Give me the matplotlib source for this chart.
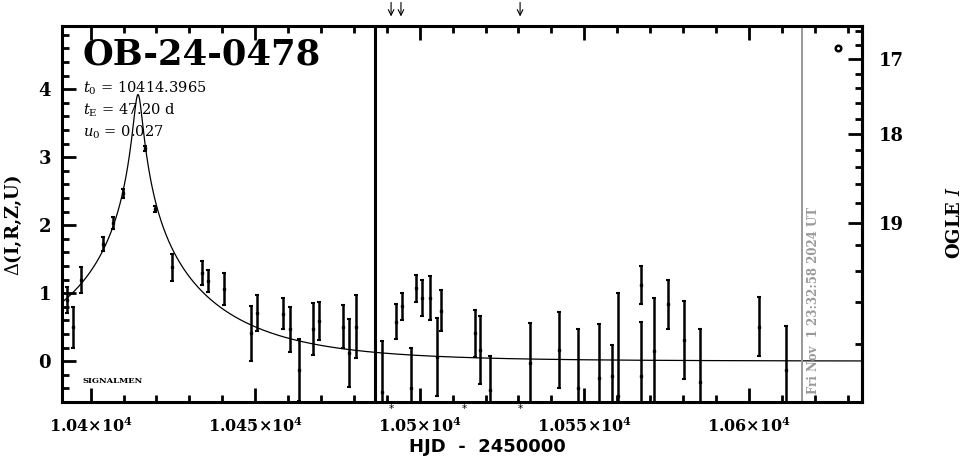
import numpy as np
import matplotlib
matplotlib.use("Agg")
import matplotlib.pyplot as plt
from matplotlib.ticker import MultipleLocator, FixedLocator, FuncFormatter

# event parameters
event_name = "OB-24-0478"
t0 = 10414.3965
tE = 47.20
u0 = 0.027

# photometry: HJD-2450000, delta mag, error
hjd = [10392.7, 10394.7, 10397.0, 10403.8, 10406.7, 10409.7, 10416.5, 10419.5,
       10424.6, 10433.7, 10435.7, 10440.6, 10448.6, 10450.5, 10458.5, 10460.6,
       10463.3, 10467.5, 10469.5, 10476.6, 10478.6, 10480.6,
       10488.5, 10492.7, 10494.6, 10497.4, 10498.8, 10500.6, 10503.2, 10505.3,
       10506.5, 10516.8, 10518.4, 10521.5, 10533.5, 10542.4, 10548.2, 10554.4,
       10558.4, 10560.4, 10567.3, 10567.3, 10571.3, 10575.3, 10580.3, 10585.2,
       10603.2, 10611.2]
dmag = [0.90, 0.50, 1.19, 1.72, 2.03, 2.47, 3.13, 2.24,
        1.38, 1.30, 1.18, 1.06, 0.41, 0.71, 0.70, 0.47,
        -0.13, 0.47, 0.59, 0.51, 0.12, 0.51,
        -0.45, 0.58, 0.81, -0.40, 1.07, 0.93, 0.93, 0.06,
        0.74, 0.41, 0.17, -0.43, -0.03, 0.16, -0.40, -0.25,
        -0.22, -0.51, 1.12, -0.22, 0.15, 0.84, 0.31, -0.30,
        0.51, -0.13]
derr = [0.19, 0.30, 0.19, 0.10, 0.09, 0.07, 0.04, 0.05,
        0.20, 0.18, 0.16, 0.24, 0.40, 0.26, 0.23, 0.33,
        0.45, 0.38, 0.28, 0.32, 0.50, 0.46,
        0.75, 0.26, 0.20, 0.60, 0.20, 0.26, 0.32, 0.57,
        0.30, 0.35, 0.50, 0.51, 0.59, 0.56, 0.88, 0.79,
        0.46, 1.52, 0.28, 0.80, 0.78, 0.36, 0.57, 0.77,
        0.43, 0.65]

season_break = 10486.4
now_hjd = 10616.3
arrow_hjd = [10491.3, 10494.3, 10530.5]
star_hjd = [10491.3, 10513.6, 10530.5]
marker_hjd = [10627.2]
marker_dmag = [4.6]
date_text = "Fri Nov  1 23:32:58 2024 UT"
ogle_ticks = [17, 18, 19]

# OGLE I axis: blended flux conversion
I_base = 19.86
fs = 0.22


def dmag_to_I(d):
    A = 10 ** (0.4 * np.asarray(d, dtype=float))
    return I_base - 2.5 * np.log10(np.maximum(fs * (A - 1) + 1, 1e-6))


def I_to_dmag(m):
    f = 10 ** (-0.4 * (np.asarray(m, dtype=float) - I_base))
    return 2.5 * np.log10(np.maximum((f - 1) / fs + 1, 1e-6))


def pacz(t):
    u = np.sqrt(u0 ** 2 + ((t - t0) / tE) ** 2)
    A = (u ** 2 + 2) / (u * np.sqrt(u ** 2 + 4))
    return 2.5 * np.log10(A)


def xfmt(v, pos):
    s = "%g" % (v / 1e4)
    return r"$\mathbf{%s{\times}10^4}$" % s


def main():
    plt.rcParams["mathtext.fontset"] = "dejavuserif"
    fig = plt.figure(figsize=(9.65, 4.59), dpi=100)
    ax = fig.add_axes([62 / 965, 1 - 402 / 459, 800 / 965, 376 / 459])

    xmin, xmax = 10391.3, 10634.4
    ylo, yhi = -0.6, 4.93
    ax.set_xlim(xmin, xmax)
    ax.set_ylim(ylo, yhi)

    tt = np.linspace(xmin, xmax, 3000)
    ax.plot(tt, pacz(tt), color="black", lw=0.9)

    ax.errorbar(hjd, dmag, yerr=derr, fmt="s", ms=1.6, color="black",
                ecolor="black", elinewidth=1.8, capsize=1.6, capthick=1.5)

    ax.plot(marker_hjd, marker_dmag, "o", ms=4, mfc="white", mec="black", mew=1.8)

    ax.axvline(season_break, color="black", lw=2.2)
    ax.axvline(now_hjd, color="#999999", lw=1.4)
    ax.text(now_hjd + 1.3, 0.02, date_text, rotation=90, color="#999999",
            fontsize=8.5, fontweight="bold", family="DejaVu Serif",
            ha="left", va="bottom", transform=ax.get_xaxis_transform())

    for h in arrow_hjd:
        ax.annotate("", xy=(h, 1.018), xytext=(h, 1.07),
                    xycoords=ax.get_xaxis_transform(),
                    arrowprops=dict(arrowstyle="->", lw=0.8, color="black"),
                    annotation_clip=False)
    for h in star_hjd:
        ax.text(h, -0.004, "*", ha="center", va="top", fontsize=7.5,
                transform=ax.get_xaxis_transform(), clip_on=False)

    # text block
    ax.text(0.026, 0.97, event_name, transform=ax.transAxes, fontsize=25.5,
            fontweight="bold", family="DejaVu Serif", va="top", ha="left")
    params = [r"$t_0$ = %.4f" % t0, r"$t_{\rm E}$ = %.2f d" % tE,
              r"$u_0$ = %.3f" % u0]
    for i, s in enumerate(params):
        ax.text(0.026, 0.835 - i * 0.059, s, transform=ax.transAxes,
                fontsize=10.5, family="DejaVu Serif", va="center", ha="left")
    ax.text(0.026, 0.056, "SIGNALMEN", transform=ax.transAxes, fontsize=6,
            fontweight="bold", family="DejaVu Serif", va="center", ha="left")

    # axes styling
    for sp in ax.spines.values():
        sp.set_linewidth(2.2)
    ax.xaxis.set_major_locator(MultipleLocator(50))
    ax.xaxis.set_minor_locator(MultipleLocator(10))
    ax.xaxis.set_major_formatter(FuncFormatter(xfmt))
    ax.yaxis.set_major_locator(MultipleLocator(1))
    ax.yaxis.set_minor_locator(MultipleLocator(0.2))
    ax.tick_params(which="both", direction="in", top=True, bottom=True,
                   left=True, right=False, width=2)
    ax.tick_params(which="major", length=10)
    ax.tick_params(which="minor", length=5)
    ax.tick_params(axis="x", labelsize=11.5, pad=10)
    ax.tick_params(axis="y", labelsize=13, pad=8)
    for lab in ax.get_yticklabels():
        lab.set_fontweight("bold")
        lab.set_family("DejaVu Serif")

    # right-hand OGLE I magnitude scale, only within the plotted range
    top_mag = float(dmag_to_I(yhi))
    bot_mag = float(dmag_to_I(ylo))
    minor_mags = [m for m in np.arange(16.0, 21.0, 0.2)
                  if top_mag < m < bot_mag and round(m, 1) not in ogle_ticks]
    sec = ax.secondary_yaxis("right", functions=(dmag_to_I, I_to_dmag))
    sec.spines["right"].set_linewidth(2.2)
    sec.yaxis.set_major_locator(FixedLocator(ogle_ticks))
    sec.yaxis.set_minor_locator(FixedLocator(minor_mags))
    sec.tick_params(which="both", direction="in", width=2)
    sec.tick_params(which="major", length=10, labelsize=13, pad=12)
    sec.tick_params(which="minor", length=5)
    for lab in sec.get_yticklabels():
        lab.set_fontweight("bold")
        lab.set_family("DejaVu Serif")

    fig.text(13 / 965, 1 - 225 / 459, r"$\Delta$(I,R,Z,U)", rotation=90,
             ha="center", va="center", fontsize=13, fontweight="bold",
             family="DejaVu Serif")
    fig.text(487 / 965, 1 - 447 / 459, "HJD  -  2450000", ha="center",
             va="center", fontsize=13, fontweight="bold")
    fig.text(955 / 965, 1 - 222 / 459, r"OGLE $I$", rotation=90,
             ha="center", va="center", fontsize=13, fontweight="bold",
             family="DejaVu Serif")

    fig.savefig("out.png", dpi=100)


if __name__ == '__main__':
    main()
